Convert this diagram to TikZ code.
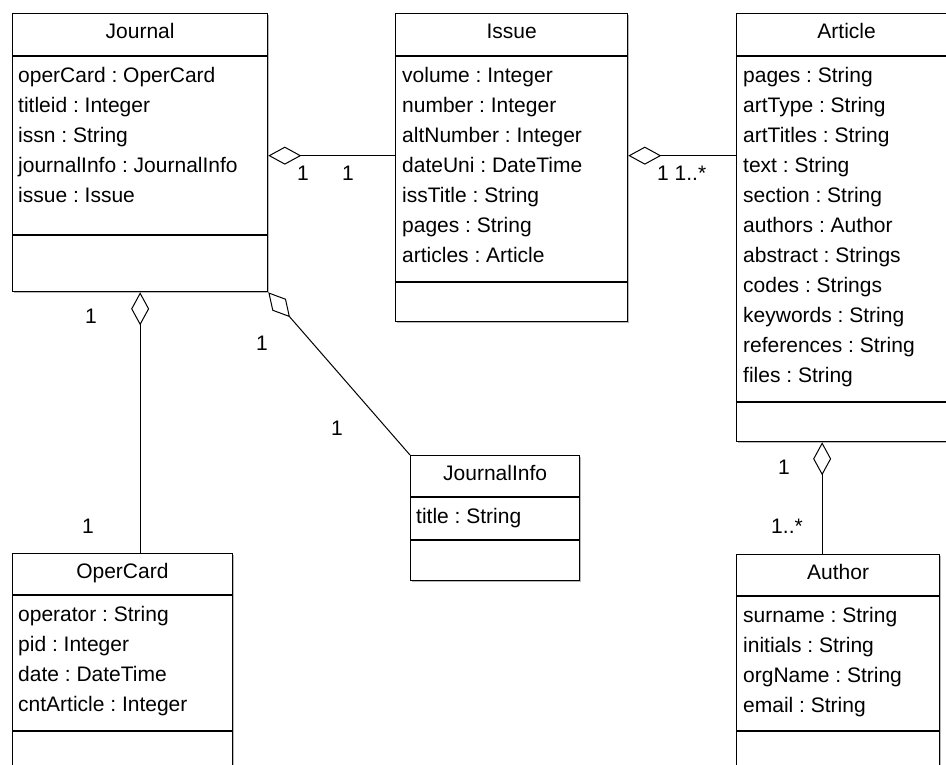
\documentclass[tikz,border=0pt]{standalone}
\usepackage{fontspec}
\newfontfamily\umlf{Liberation Sans}
\usetikzlibrary{arrows.meta,shadows}
\newcommand{\umlfont}{\umlf\fontsize{21}{25}\selectfont\frenchspacing}
\begin{document}
\begin{tikzpicture}[x=1pt,y=-1pt,
  cls/.style={draw, line width=1.3pt, anchor=north west, inner sep=0pt, fill=white,
    general shadow={shadow xshift=1.6pt, shadow yshift=-1.6pt, fill=gray!55}},
  sepline/.style={line width=1.3pt},
  attr/.style={anchor=base west, inner sep=0pt, font=\umlfont},
  ttl/.style={anchor=base, inner sep=0pt, font=\umlfont},
  mult/.style={anchor=base, inner sep=0pt, font=\umlfont},
  agg/.style={line width=1pt, {Diamond[open, length=33pt, width=18pt, line width=1pt]}-}
]
\useasboundingbox (0,0) rectangle (946,764);
\clip (0,0) rectangle (946,764);
\fill[white] (0,0) rectangle (946,764);

% ---------- Journal ----------
\node[cls, minimum width=255pt, minimum height=278pt] (journal) at (12,13) {};
\draw[sepline] (journal.west |- 0,56) -- (journal.east |- 0,56);
\draw[sepline] (journal.west |- 0,235) -- (journal.east |- 0,235);
\node[ttl] (jt) at (journal.north |- 0,38) {Journal};
\foreach \t [count=\i] in {operCard : OperCard, titleid : Integer, issn : String, journalInfo : JournalInfo, issue : Issue}
  \node[attr] (ja\i) at (18,52+30*\i) {\t};

% ---------- Issue ----------
\node[cls, minimum width=232pt, minimum height=308pt] (issue) at (395,13) {};
\draw[sepline] (issue.west |- 0,56) -- (issue.east |- 0,56);
\draw[sepline] (issue.west |- 0,282) -- (issue.east |- 0,282);
\node[ttl] (it) at (issue.north |- 0,38) {Issue};
\foreach \t [count=\i] in {volume : Integer, number : Integer, altNumber : Integer, dateUni : DateTime, issTitle : String, pages : String, articles : Article}
  \node[attr] (ia\i) at (402,52+30*\i) {\t};

% ---------- Article ----------
\node[cls, minimum width=220pt, minimum height=428pt] (article) at (736,13) {};
\draw[sepline] (article.west |- 0,56) -- (article.east |- 0,56);
\draw[sepline] (article.west |- 0,402) -- (article.east |- 0,402);
\node[ttl] (at) at (article.north |- 0,38) {Article};
\foreach \t [count=\i] in {pages : String, artType : String, artTitles : String, text : String, section : String, authors : Author, abstract : Strings, codes : Strings, keywords : String, references : String, files : String}
  \node[attr] (aa\i) at (743,52+30*\i) {\t};

% ---------- JournalInfo ----------
\node[cls, minimum width=169pt, minimum height=125pt] (jinfo) at (410,455) {};
\draw[sepline] (jinfo.west |- 0,497) -- (jinfo.east |- 0,497);
\draw[sepline] (jinfo.west |- 0,540) -- (jinfo.east |- 0,540);
\node[ttl] (jit) at (jinfo.north |- 0,480) {JournalInfo};
\node[attr] (jia1) at (416,523) {title : String};

% ---------- OperCard ----------
\node[cls, minimum width=219.5pt, minimum height=250pt] (opercard) at (12,553) {};
\draw[sepline] (opercard.west |- 0,595) -- (opercard.east |- 0,595);
\draw[sepline] (opercard.west |- 0,731) -- (opercard.east |- 0,731);
\node[ttl] (ot) at (opercard.north |- 0,578) {OperCard};
\foreach \t [count=\i] in {operator : String, pid : Integer, date : DateTime, cntArticle : Integer}
  \node[attr] (oa\i) at (18,591+30*\i) {\t};

% ---------- Author ----------
\node[cls, minimum width=203pt, minimum height=250pt] (author) at (736,554) {};
\draw[sepline] (author.west |- 0,596) -- (author.east |- 0,596);
\draw[sepline] (author.west |- 0,731) -- (author.east |- 0,731);
\node[ttl] (aut) at (author.north |- 0,579) {Author};
\foreach \t [count=\i] in {surname : String, initials : String, orgName : String, email : String}
  \node[attr] (ua\i) at (743,592+30*\i) {\t};

% ---------- Connectors ----------
\draw[agg] ([yshift=-3pt]journal.east) -- ([yshift=-3pt]journal.east -| issue.west);
\draw[agg] ([yshift=-3pt]journal.east -| issue.east) -- ([yshift=-3pt]journal.east -| article.west);
\draw[agg] (journal.south) -- (journal.south |- opercard.north);
\draw[agg] (journal.south east) -- (jinfo.north west);
\draw[agg] ([xshift=-16pt]author.north |- article.south) -- ([xshift=-16pt]author.north);

% ---------- Multiplicities ----------
\node[mult] (m1) at (303,180) {1};
\node[mult] (m2) at (348,180) {1};
\node[mult, anchor=base west] (m3) at (657,180) {1 1..*};
\node[mult] (m4) at (91,323) {1};
\node[mult] (m5) at (88,533) {1};
\node[mult] (m6) at (262,350) {1};
\node[mult] (m7) at (337,435) {1};
\node[mult] (m8) at (784,474) {1};
\node[mult] (m9) at (787,533) {1..*};
\end{tikzpicture}
\end{document}
